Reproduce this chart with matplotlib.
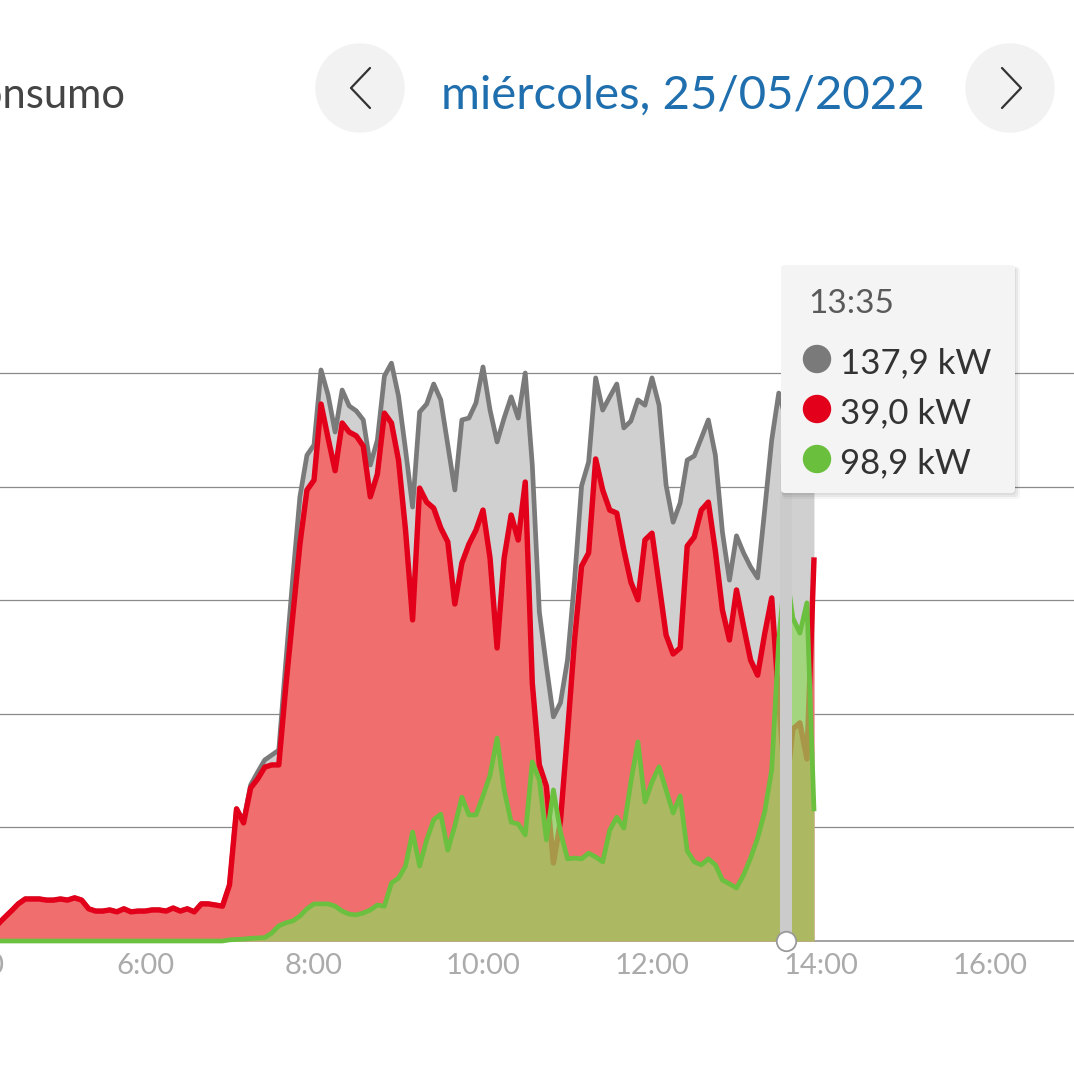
import numpy as np
import matplotlib
matplotlib.use("Agg")
import matplotlib.pyplot as plt
from matplotlib.patches import Circle, FancyBboxPatch

plt.rcParams['font.family'] = ['Lato', 'DejaVu Sans']

# ---------------- data (kW, 5-minute samples from 04:15 to 13:55) ----------------
start_hour = 4.25
step_min = 5

grid_kw = [  # red: power drawn from the grid
    4.2, 6.1, 7.9, 9.8, 11.1, 11.1, 11.1, 10.8, 10.8, 11.1,
    10.8, 11.4, 10.8, 8.5, 7.9, 7.9, 8.2, 7.7, 8.5, 7.7,
    7.9, 7.9, 8.2, 8.2, 7.9, 8.7, 7.9, 8.5, 7.7, 9.8,
    9.8, 9.5, 9.2, 14.8, 34.9, 31.2, 40.4, 42.8, 45.9, 46.5,
    46.5, 67.3, 86.1, 104.8, 119.1, 121.7, 141.8, 132.8, 124.2, 136.8,
    134.4, 133.4, 130.7, 117.3, 123.3, 139.4, 136.8, 127.0, 108.5, 84.8,
    119.6, 115.9, 114.3, 109.1, 105.4, 89.0, 99.8, 104.8, 108.5, 113.8,
    101.1, 77.4, 101.1, 112.5, 105.9, 121.2, 68.1, 46.5, 40.9, 20.6,
    31.7, 54.9, 79.5, 99.0, 102.5, 127.3, 119.1, 113.8, 113.0, 103.3,
    94.8, 90.1, 105.9, 107.7, 94.3, 80.8, 75.8, 77.4, 104.3, 106.7,
    113.8, 115.9, 103.0, 87.4, 79.5, 92.7, 83.2, 74.2, 70.2, 81.1,
    90.6, 63.6, 39.0, 56.0, 57.6, 48.1, 100.6]

consumption_kw = [  # gray: total consumption
    4.2, 6.1, 7.9, 9.8, 11.1, 11.1, 11.1, 10.8, 10.8, 11.1,
    10.8, 11.4, 10.8, 8.5, 7.9, 7.9, 8.2, 7.7, 8.5, 7.7,
    7.9, 7.9, 8.2, 8.2, 7.9, 8.7, 7.9, 8.5, 7.7, 9.8,
    9.8, 9.5, 9.2, 14.8, 34.9, 31.7, 41.2, 44.6, 47.8, 49.1,
    50.4, 73.7, 96.1, 117.3, 128.3, 131.0, 150.8, 144.2, 134.4, 145.5,
    141.3, 140.0, 137.6, 125.7, 132.3, 149.2, 152.6, 143.9, 129.7, 114.6,
    139.7, 141.8, 147.1, 142.9, 131.0, 119.1, 137.6, 138.1, 142.1, 151.6,
    140.2, 131.8, 138.1, 143.7, 138.1, 150.0, 125.7, 86.9, 72.6, 59.2,
    62.9, 74.2, 95.3, 120.2, 126.5, 148.7, 140.2, 143.7, 147.1, 135.5,
    137.3, 142.9, 141.5, 148.7, 141.5, 120.4, 110.6, 115.7, 127.0, 128.1,
    132.8, 137.6, 128.3, 108.0, 95.3, 107.0, 102.5, 98.8, 95.9, 113.8,
    132.3, 144.7, 137.9, 142.0, 145.0, 140.0, 136.0]

solar_kw = [  # green: photovoltaic
    0.0, 0.0, 0.0, 0.0, 0.0, 0.0, 0.0, 0.0, 0.0, 0.0,
    0.0, 0.0, 0.0, 0.0, 0.0, 0.0, 0.0, 0.0, 0.0, 0.0,
    0.0, 0.0, 0.0, 0.0, 0.0, 0.0, 0.0, 0.0, 0.0, 0.0,
    0.0, 0.0, 0.0, 0.3, 0.4, 0.5, 0.7, 0.8, 0.9, 2.1,
    4.0, 4.8, 5.3, 6.6, 8.5, 9.8, 9.8, 9.8, 9.2, 7.9,
    7.1, 6.9, 7.4, 8.2, 9.5, 9.2, 15.3, 16.6, 19.8, 28.8,
    19.8, 26.7, 32.0, 33.5, 24.0, 30.4, 38.0, 33.3, 33.3, 38.3,
    43.8, 53.6, 39.9, 31.4, 30.9, 28.0, 47.3, 42.5, 26.7, 39.9,
    28.8, 21.7, 21.9, 21.7, 23.2, 22.2, 20.9, 29.3, 32.7, 29.8,
    42.0, 52.6, 36.7, 42.0, 46.0, 39.9, 33.8, 38.3, 23.8, 20.9,
    20.1, 21.7, 20.1, 16.1, 15.1, 14.0, 17.4, 21.9, 27.2, 34.1,
    45.2, 79.5, 98.9, 85.3, 81.3, 89.3, 34.9]

tick_hours = [4, 6, 8, 10, 12, 14, 16]
tick_labels = ["4:00", "6:00", "8:00", "10:00", "12:00", "14:00", "16:00"]
grid_values = [30, 60, 90, 120, 150]

cursor_hour = 13 + 35 / 60
tooltip_time = "13:35"
tooltip_rows = ["137,9 kW", "39,0 kW", "98,9 kW"]

title_left = "Consumo"
date_label = "miércoles, 25/05/2022"

# ---------------- styles ----------------
GRAY_LINE = "#7a7a7a"
GRAY_FILL = "#d0d0d0"
RED_LINE = "#e2001a"
RED_FILL = "#f06e6e"
GREEN_LINE = "#6cc040"
GREEN_FILL = (144 / 255, 216 / 255, 93 / 255)
DOT_COLORS = [GRAY_LINE, RED_LINE, "#6abf3c"]

W, H = 1074, 1080
fig = plt.figure(figsize=(W / 100, H / 100), dpi=100)

base_px = 941
top_px = 146
px_per_hour = 84.5
x0_hour = 6 - 145 / px_per_hour
x1_hour = 6 + (W - 145) / px_per_hour
kw_per_px = 30 / 113.6

ax = fig.add_axes([0, (H - base_px) / H, 1, (base_px - top_px) / H])
ax.set_xlim(x0_hour, x1_hour)
ax.set_ylim(0, (base_px - top_px) * kw_per_px)
for sp in ax.spines.values():
    sp.set_visible(False)
ax.set_yticks(grid_values)
ax.set_yticklabels([])
ax.set_xticks([])
ax.tick_params(axis="y", length=0)
ax.grid(axis="y", color="#8a8a8a", linewidth=0.9, zorder=0)
ax.set_axisbelow(True)
ax.axhline(0, color="#8a8a8a", linewidth=1.1, zorder=0.5, clip_on=False)

hours = start_hour + np.arange(len(grid_kw)) * step_min / 60
g = np.array(consumption_kw)
r = np.array(grid_kw)
s = np.array(solar_kw)

ax.fill_between(hours, 0, g, color=GRAY_FILL, linewidth=0, zorder=1)
ax.plot(hours, g, color=GRAY_LINE, linewidth=3.4, zorder=2, solid_joinstyle="round")
ax.fill_between(hours, 0, r, color=RED_FILL, linewidth=0, zorder=3)
ax.plot(hours, r, color=RED_LINE, linewidth=3.9, zorder=4, solid_joinstyle="round")
ax.fill_between(hours, 0, s, color=GREEN_FILL, alpha=0.7, linewidth=0, zorder=5)
ax.plot(hours, s, color=GREEN_LINE, linewidth=3.4, zorder=6, clip_on=False,
        solid_joinstyle="round")

# cursor
half = 6 / px_per_hour
ax.axvspan(cursor_hour - half, cursor_hour + half, ymin=0, ymax=0.6,
           color="#cbcbcb", zorder=7, linewidth=0)
ax.plot([cursor_hour], [0], marker="o", markersize=14, markerfacecolor="white",
        markeredgecolor="#9a9a9a", markeredgewidth=1.3, zorder=8, clip_on=False)

# x tick labels
for h, lab in zip(tick_hours, tick_labels):
    ax.annotate(lab, xy=(h, 0), xycoords=("data", "axes fraction"),
                xytext=(0, -9), textcoords="offset points", ha="center", va="top",
                fontsize=21, color="#ababab", fontweight="normal",
                annotation_clip=False)

# ---------------- decorations (pixel overlay) ----------------
deco = fig.add_axes([0, 0, 1, 1])
deco.set_xlim(0, W)
deco.set_ylim(H, 0)
deco.axis("off")
deco.patch.set_alpha(0)

deco.text(125, 108, title_left, ha="right", va="baseline", fontsize=30,
          color="#444444")
deco.add_patch(Circle((360, 88), 44, color="#f2f2f2", zorder=1))
deco.add_patch(Circle((1010, 88), 44, color="#f2f2f2", zorder=1))
deco.plot([370, 351, 370], [68, 88, 108], color="#333333", linewidth=1.6,
          zorder=2, solid_capstyle="round")
deco.plot([1002, 1021, 1002], [68, 88, 108], color="#333333", linewidth=1.6,
          zorder=2, solid_capstyle="round")
deco.text(683, 109, date_label, ha="center", va="baseline", fontsize=34,
          color="#1f6fae")

# tooltip with soft shadow
for k, a in enumerate([0.05, 0.05, 0.04]):
    deco.add_patch(FancyBboxPatch((781 + 1, 265 + 2), 234 + 2 * k, 228 + 2 * k,
                                  boxstyle="round,pad=0,rounding_size=4",
                                  facecolor="black", alpha=a, linewidth=0, zorder=4))
deco.add_patch(FancyBboxPatch((781, 265), 234, 228,
                              boxstyle="round,pad=0,rounding_size=4",
                              facecolor="#f4f4f4", edgecolor="none", zorder=5))
deco.text(808, 313, tooltip_time, ha="left", va="baseline", fontsize=24,
          color="#5a5a5a", fontweight="normal", zorder=6)
row_y = [359, 409, 459]
for yy, txt, col in zip(row_y, tooltip_rows, DOT_COLORS):
    deco.add_patch(Circle((817, yy), 13.5, color=col, zorder=6))
    deco.text(840, yy + 14, txt, ha="left", va="baseline", fontsize=25,
              color="#333333", zorder=6)

fig.savefig("out.png", dpi=100)
